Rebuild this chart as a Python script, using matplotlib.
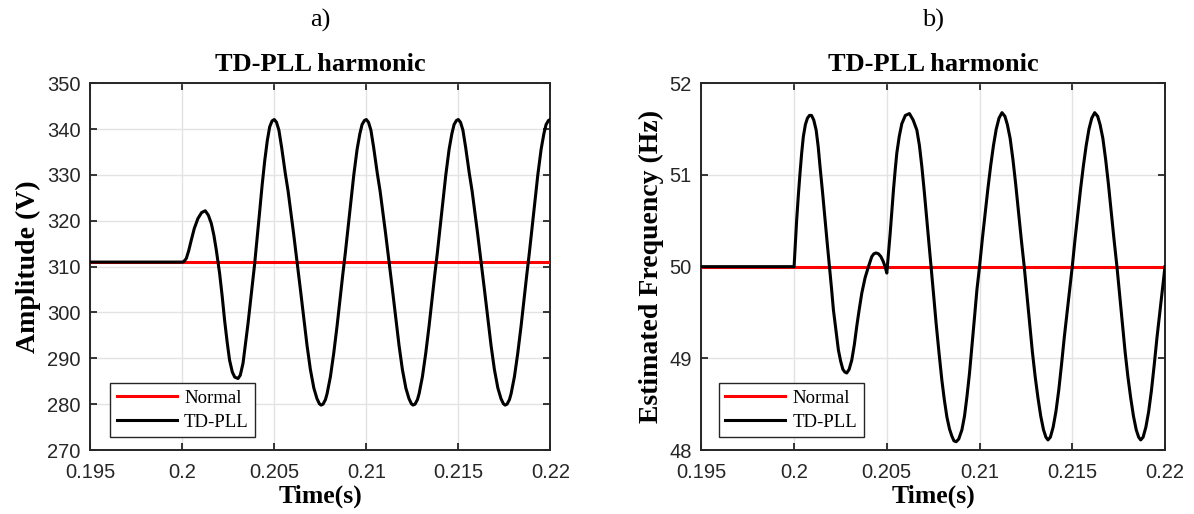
import matplotlib
matplotlib.use("Agg")
import matplotlib.pyplot as plt
import numpy as np

# ---- data (time in ms after t = 0.2 s) ----
# a) amplitude: step response (0-5 ms) then a repeating 5 ms cycle, peak to peak
amp_pre = 311.0
amp_start_t = [0.0, 0.08, 0.22, 0.35, 0.49, 0.65, 0.85, 1.05, 1.25, 1.42, 1.58, 1.72, 1.85,
               2.03, 2.17, 2.30, 2.44, 2.57, 2.72, 2.85, 3.03, 3.15, 3.30, 3.44, 3.57, 3.75,
               3.93, 4.07, 4.20, 4.34, 4.48, 4.62, 4.75, 4.88]
amp_start_v = [311.0, 311.1, 311.8, 313.5, 315.8, 318.3, 320.5, 321.8, 322.2, 321.2, 319.4, 316.8, 313.6,
               308.5, 303.5, 298.3, 293.5, 289.6, 287.0, 285.9, 285.6, 286.3, 288.9, 293.3, 297.5, 304.0,
               310.5, 316.3, 321.8, 327.8, 333.1, 337.5, 340.5, 341.8]
amp_cycle_t = [0.00, 0.12, 0.25, 0.40, 0.60, 0.75, 0.87, 1.05, 1.24, 1.42, 1.60, 1.78, 1.96, 2.15,
               2.32, 2.45, 2.54, 2.65, 2.78, 2.87, 3.05, 3.23, 3.41, 3.59, 3.72, 3.86, 4.00, 4.13,
               4.32, 4.50, 4.65, 4.77, 4.90]
amp_cycle_v = [342.1, 341.5, 339.8, 336.0, 330.3, 326.5, 322.8, 317.2, 311.0, 305.0, 299.0, 292.8, 287.6, 283.5,
               281.2, 280.1, 279.8, 280.0, 281.0, 282.3, 286.0, 291.1, 297.0, 303.5, 308.2, 313.0, 318.2, 323.2,
               330.0, 335.6, 339.0, 341.0, 341.9]
amp_cycle_starts = [5.0, 10.0, 15.0]
amp_end = (20.0, 342.1)
amp_normal = 311.0

# b) frequency: step response (0-5 ms), first cycle, then a 5 ms cycle from one 50 Hz crossing to the next
freq_pre = 50.0
freq_start_t = [0.0, 0.07, 0.14, 0.23, 0.32, 0.41, 0.5, 0.61, 0.72, 0.83, 0.94, 1.06, 1.19, 1.3, 1.4,
                1.54, 1.67, 1.79, 1.91, 2.02, 2.12, 2.26, 2.39, 2.51, 2.63, 2.74, 2.84, 2.97, 3.11,
                3.25, 3.38, 3.51, 3.65, 3.83, 4.01, 4.19, 4.30, 4.42, 4.55, 4.68, 4.80, 4.91,
                5.0, 5.09, 5.18, 5.27, 5.36, 5.45, 5.54, 5.67, 5.81, 6.0, 6.22, 6.42, 6.62, 6.76,
                6.89, 7.02, 7.16, 7.28, 7.39, 7.52, 7.66, 7.82, 7.97, 8.1, 8.24, 8.38, 8.51, 8.62,
                8.74, 8.88, 9.05, 9.19, 9.32, 9.46, 9.59, 9.73, 9.86]
freq_start_v = [50.0, 50.25, 50.51, 50.78, 51.02, 51.24, 51.42, 51.55, 51.62, 51.65, 51.65, 51.6, 51.49, 51.31, 51.09,
                50.8, 50.51, 50.25, 50.0, 49.76, 49.53, 49.3, 49.09, 48.97, 48.88, 48.85, 48.84, 48.88, 48.98,
                49.15, 49.35, 49.53, 49.71, 49.88, 50.0, 50.11, 50.14, 50.15, 50.14, 50.11, 50.06, 50.0,
                49.93, 50.14, 50.36, 50.6, 50.84, 51.05, 51.24, 51.42, 51.56, 51.65, 51.67, 51.6, 51.49, 51.32,
                51.09, 50.82, 50.51, 50.25, 50.0, 49.7, 49.38, 49.05, 48.76, 48.55, 48.36, 48.23, 48.15, 48.1,
                48.09, 48.12, 48.22, 48.37, 48.58, 48.84, 49.13, 49.45, 49.75]
freq_cycle_t = [0.00, 0.15, 0.30, 0.45, 0.60, 0.75, 0.90, 1.05, 1.21, 1.37, 1.50, 1.65, 1.80, 1.95,
                2.10, 2.25, 2.41, 2.55, 2.70, 2.85, 3.00, 3.15, 3.30, 3.45, 3.58, 3.69, 3.82, 3.97,
                4.12, 4.27, 4.42, 4.57, 4.72, 4.86]
freq_cycle_v = [50.0, 50.3, 50.58, 50.85, 51.1, 51.32, 51.5, 51.62, 51.68, 51.64, 51.55, 51.4, 51.17, 50.9,
                50.6, 50.3, 50.0, 49.7, 49.38, 49.07, 48.8, 48.57, 48.37, 48.22, 48.14, 48.11, 48.14, 48.25,
                48.42, 48.65, 48.93, 49.23, 49.5, 49.76]
freq_cycle_starts = [10.0, 15.0]
freq_end = (20.0, 50.0)
freq_normal = 50.0

x_ticks = [0.195, 0.2, 0.205, 0.21, 0.215, 0.22]
x_tick_labels = ["0.195", "0.2", "0.205", "0.21", "0.215", "0.22"]
amp_ticks = [270, 280, 290, 300, 310, 320, 330, 340, 350]
freq_ticks = [48, 49, 50, 51, 52]

serif = "Liberation Serif"
sans = "Liberation Sans"
dark = "#262626"


def assemble(pre, start_t, start_v, cycle_t, cycle_v, cycle_starts, end):
    t = [-5.0] + list(start_t)
    v = [pre] + list(start_v)
    for c in cycle_starts:
        t += [c + dt for dt in cycle_t]
        v += list(cycle_v)
    t.append(end[0])
    v.append(end[1])
    return 0.2 + np.array(t) / 1000.0, np.array(v)


amp_t, amp_v = assemble(amp_pre, amp_start_t, amp_start_v, amp_cycle_t, amp_cycle_v, amp_cycle_starts, amp_end)
freq_t, freq_v = assemble(freq_pre, freq_start_t, freq_start_v, freq_cycle_t, freq_cycle_v, freq_cycle_starts, freq_end)

fig = plt.figure(figsize=(11.94, 5.14), dpi=100)
ax1 = fig.add_axes([0.0756, 0.1245, 0.3853, 0.7134])
ax2 = fig.add_axes([0.5874, 0.1245, 0.3883, 0.7134])


def style(ax, t, y, normal, yticks, ylabel, panel, leg_x):
    ax.plot([0.195, 0.22], [normal, normal], color="red", lw=2.2, label="Normal", zorder=3)
    ax.plot(t, y, color="black", lw=2.2, label="TD-PLL", zorder=4, solid_joinstyle="round")
    ax.set_xlim(0.195, 0.22)
    ax.set_ylim(yticks[0], yticks[-1])
    ax.set_xticks(x_ticks)
    ax.set_xticklabels(x_tick_labels)
    ax.set_yticks(yticks)
    ax.grid(True, color="#e3e3e3", lw=1.0)
    ax.set_axisbelow(True)
    ax.tick_params(direction="in", top=True, right=True, length=5, width=1.3,
                   colors=dark, labelsize=14.5)
    ax.tick_params(axis="x", pad=9)
    ax.tick_params(axis="y", pad=7)
    for lab in ax.get_xticklabels() + ax.get_yticklabels():
        lab.set_fontfamily(sans)
    for sp in ax.spines.values():
        sp.set_color(dark)
        sp.set_linewidth(1.4)
    ax.set_xlabel("Time(s)", fontfamily=serif, fontweight="bold", fontsize=18.5, labelpad=2)
    ax.set_ylabel(ylabel, fontfamily=serif, fontweight="bold", fontsize=20, labelpad=4)
    ax.set_title("TD-PLL harmonic", fontfamily=serif, fontweight="bold", fontsize=19, pad=9)
    ax.text(0.5, 1.14, panel, transform=ax.transAxes, ha="center", va="bottom",
            fontfamily=serif, fontsize=19)
    leg = ax.legend(loc="lower left", bbox_to_anchor=(leg_x, 0.035), borderaxespad=0,
                    prop={"family": serif, "size": 13.5},
                    fancybox=False, framealpha=1, edgecolor=dark, handlelength=3.2,
                    borderpad=0.35, labelspacing=0.35, handletextpad=0.4)
    leg.get_frame().set_linewidth(1.0)
    leg.set_zorder(5)


style(ax1, amp_t, amp_v, amp_normal, amp_ticks, "Amplitude (V)", "a)", 0.043)
style(ax2, freq_t, freq_v, freq_normal, freq_ticks, "Estimated Frequency (Hz)", "b)", 0.037)

fig.savefig("out.png", dpi=100)
